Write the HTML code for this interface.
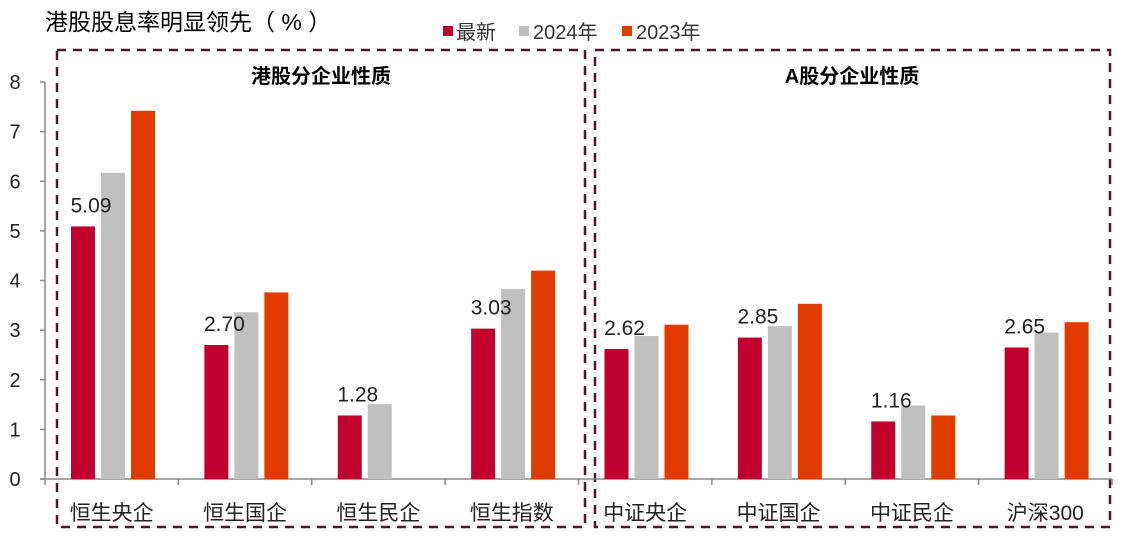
<!DOCTYPE html>
<html><head><meta charset="utf-8"><style>
body{margin:0;background:#fff;}
svg{display:block;font-family:"Liberation Sans","Noto Sans CJK SC",sans-serif;}
</style></head><body>
<svg id="c" width="1124" height="540">
<text x="45" y="30" font-size="23" fill="#000">港股股息率明显领先（ % ）</text>
<g>
<rect x="443" y="26" width="10" height="10" fill="#c0002f"/>
<text x="456" y="39" font-size="20" fill="#333">最新</text>
<rect x="519" y="26" width="10" height="10" fill="#c0c0c0"/>
<text x="533" y="39" font-size="20" fill="#333">2024年</text>
<rect x="622" y="26" width="10" height="10" fill="#e03c00"/>
<text x="636" y="39" font-size="20" fill="#333">2023年</text>
</g>
<rect x="57" y="50" width="528" height="477" fill="none" stroke="#4a1a2a" stroke-width="2.5" stroke-dasharray="9,7"/>
<rect x="595" y="50" width="515" height="477" fill="none" stroke="#4a1a2a" stroke-width="2.5" stroke-dasharray="9,7"/>
<text x="321" y="83" font-size="20" font-weight="bold" text-anchor="middle">港股分企业性质</text>
<text x="852" y="83" font-size="20" font-weight="bold" text-anchor="middle">A股分企业性质</text>
<g id="axes"></g><g id="bars"></g>
</svg>
<script>
const categories=["恒生央企","恒生国企","恒生民企","恒生指数","中证央企","中证国企","中证民企","沪深300"];
const latest=[5.09,2.70,1.28,3.03,2.62,2.85,1.16,2.65];
const y2024=[6.17,3.36,1.51,3.83,2.88,3.08,1.48,2.95];
const y2023=[7.42,3.76,null,4.20,3.11,3.53,1.28,3.16];
const yTicks=[0,1,2,3,4,5,6,7,8];
const NS="http://www.w3.org/2000/svg";
const x0=45,x1=1112,y0=479,yTop=82,yMax=8;
const bw=(x1-x0)/categories.length;
const ys=v=>y0-(v/yMax)*(y0-yTop);
const xs=i=>x0+i*bw;
function mk(t,a,p){const e=document.createElementNS(NS,t);for(const k in a)e.setAttribute(k,a[k]);p.appendChild(e);return e;}
const ax=document.getElementById('axes'),bg=document.getElementById('bars');
const yl=mk('line',{x1:x0,y1:y0,x2:x0,y2:yTop,stroke:'#888','stroke-width':1.5},ax);


const xl=mk('line',{x1:x0-5,y1:y0,x2:x1,y2:y0,stroke:'#888','stroke-width':1.5},ax);


yTicks.forEach(v=>{
 const tk=mk('line',{x1:x0-5,y1:ys(v),x2:x0,y2:ys(v),stroke:'#888','stroke-width':1.5},ax);
 
 
 const t=mk('text',{x:15,y:ys(v)+7,'font-size':20,'text-anchor':'middle',fill:'#222'},ax);t.textContent=v;
 
 
});
for(let i=0;i<=categories.length;i++){
 const tk=mk('line',{x1:xs(i),y1:y0,x2:xs(i),y2:y0+6,stroke:'#888','stroke-width':1.5},ax);
 
 
}
const series=[[latest,'#c0002f','latest'],[y2024,'#c0c0c0','2024'],[y2023,'#e03c00','2023']];
categories.forEach((c,i)=>{
 const t=mk('text',{x:xs(i)+bw/2,y:520,'font-size':21,'text-anchor':'middle',fill:'#222'},ax);t.textContent=c;
 
 
 series.forEach((s,j)=>{
  const v=s[0][i]; if(v==null)return;
  const bx=xs(i)+26+j*30;
  const r=mk('rect',{x:bx,y:ys(v),width:24,height:y0-ys(v),fill:s[1]},bg);
  
  
 });
 const lt=mk('text',{x:xs(i)+26+12+8,y:ys(latest[i])-14,'font-size':21,'text-anchor':'middle',fill:'#222'},bg);
 lt.textContent=latest[i].toFixed(2);
 
 
});
</script>
</body></html>
